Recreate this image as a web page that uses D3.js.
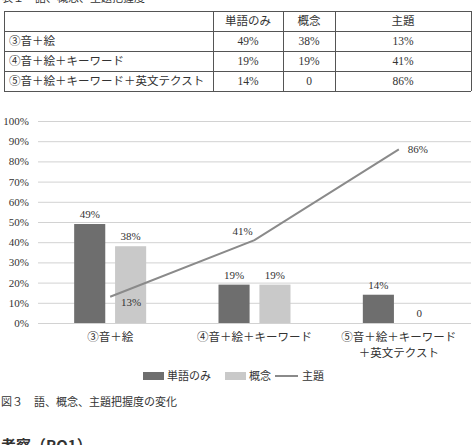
<!DOCTYPE html>
<html>
<head>
<meta charset="utf-8">
<script src="https://cdn.jsdelivr.net/npm/d3@7"></script>
<style>
  html, body { margin: 0; padding: 0; background: #fff; }
  svg { display: block; }
  text { font-family: "Liberation Serif", "Noto Sans CJK JP", serif; fill: #333; }
</style>
</head>
<body>
<div id="wrapper"></div>
<script>
const categories = ["③音＋絵", "④音＋絵＋キーワード", "⑤音＋絵＋キーワード＋英文テクスト"]
const categoryLines = [["③音＋絵"], ["④音＋絵＋キーワード"], ["⑤音＋絵＋キーワード", "＋英文テクスト"]]
const seriesNames = ["単語のみ", "概念", "主題"]
const wordOnly = [0.49, 0.19, 0.14]
const concept = [0.38, 0.19, 0]
const theme = [0.13, 0.41, 0.86]
const yTicks = [0, 0.1, 0.2, 0.3, 0.4, 0.5, 0.6, 0.7, 0.8, 0.9, 1.0]
const tableCells = [
  ["49%", "38%", "13%"],
  ["19%", "19%", "41%"],
  ["14%", "0", "86%"],
]

function drawChart() {
  const dimensions = { width: 476, height: 445 }

  const svg = d3.select("#wrapper")
    .append("svg")
      .attr("width", dimensions.width)
      .attr("height", dimensions.height)

  // table title (cut at the top of the picture)
  svg.append("text")
    .attr("x", 2).attr("y", 2)
    .style("font-size", "11px")
    .text("表１　語、概念、主題把握度")

  // 1. table
  const colEdges = [4, 213, 283, 335, 471]
  const rowEdges = [11, 31, 51, 71, 91]
  const table = svg.append("g")

  rowEdges.forEach(y => {
    table.append("line")
      .attr("x1", colEdges[0]).attr("x2", colEdges[colEdges.length - 1])
      .attr("y1", y + 0.5).attr("y2", y + 0.5)
      .attr("stroke", "#555")
  })
  colEdges.forEach(x => {
    table.append("line")
      .attr("x1", x + 0.5).attr("x2", x + 0.5)
      .attr("y1", rowEdges[0]).attr("y2", rowEdges[rowEdges.length - 1])
      .attr("stroke", "#555")
  })
  seriesNames.forEach((name, j) => {
    table.append("text")
      .attr("x", (colEdges[j + 1] + colEdges[j + 2]) / 2)
      .attr("y", (rowEdges[0] + rowEdges[1]) / 2 + 4)
      .attr("text-anchor", "middle")
      .style("font-size", "11.5px")
      .text(name)
  })
  categories.forEach((cat, i) => {
    const yMid = (rowEdges[i + 1] + rowEdges[i + 2]) / 2 + 4
    table.append("text")
      .attr("x", colEdges[0] + 5).attr("y", yMid)
      .style("font-size", "11.5px")
      .text(cat)
    tableCells[i].forEach((v, j) => {
      table.append("text")
        .attr("x", (colEdges[j + 1] + colEdges[j + 2]) / 2)
        .attr("y", yMid)
        .attr("text-anchor", "middle")
        .style("font-size", "11.5px")
        .text(v)
    })
  })

  // 2. chart
  const yScale = d3.scaleLinear()
    .domain([0, 1])
    .range([323, 121])

  const xScale = d3.scaleBand()
    .domain(categories)
    .range([38, 471])

  const xSub = d3.scaleBand()
    .domain(seriesNames.slice(0, 2))
    .range([-36, 36])
    .paddingInner(0.24)

  const yAxisGenerator = d3.axisLeft(yScale)
    .tickValues(yTicks)
    .tickFormat(d3.format(".0%"))
    .tickSize(-(471 - 38))
    .tickPadding(9)

  const yAxis = svg.append("g")
    .attr("transform", "translate(38,0)")
    .call(yAxisGenerator)
  yAxis.select(".domain").remove()
  yAxis.selectAll(".tick line").attr("stroke", "#d2d2d2")
  yAxis.selectAll(".tick text")
    .style("font-size", "11px")
    .style("font-family", "'Liberation Serif', serif")
    .attr("fill", "#333")

  const barSeries = [
    { name: seriesNames[0], values: wordOnly, color: "#6e6e6e" },
    { name: seriesNames[1], values: concept, color: "#c9c9c9" },
  ]

  const center = c => xScale(c) + xScale.bandwidth() / 2

  barSeries.forEach(s => {
    const g = svg.append("g")
    g.selectAll("rect")
      .data(categories)
      .join("rect")
        .attr("x", (c, i) => center(c) + xSub(s.name))
        .attr("y", (c, i) => yScale(s.values[i]))
        .attr("width", xSub.bandwidth())
        .attr("height", (c, i) => yScale(0) - yScale(s.values[i]))
        .attr("fill", s.color)
    g.selectAll("text")
      .data(categories)
      .join("text")
        .attr("x", (c, i) => center(c) + xSub(s.name) + xSub.bandwidth() / 2)
        .attr("y", (c, i) => yScale(s.values[i]) - 6)
        .attr("text-anchor", "middle")
        .style("font-size", "11px")
        .text((c, i) => s.values[i] === 0 ? "0" : d3.format(".0%")(s.values[i]))
  })

  // line series
  const lineGenerator = d3.line()
    .x((c, i) => center(c))
    .y((c, i) => yScale(theme[i]))

  svg.append("path")
    .attr("d", lineGenerator(categories))
    .attr("fill", "none")
    .attr("stroke", "#8a8a8a")
    .attr("stroke-width", 2)

  // label placement like the spreadsheet: below, above, right
  const labelPlace = ["below", "above", "right"]
  svg.append("g").selectAll("text")
    .data(categories)
    .join("text")
      .attr("x", (c, i) => {
        const p = labelPlace[i]
        return center(c) + (p === "below" ? 21 : p === "above" ? -12 : 19)
      })
      .attr("y", (c, i) => {
        const p = labelPlace[i]
        return yScale(theme[i]) + (p === "below" ? 9 : p === "above" ? -5 : 4)
      })
      .attr("text-anchor", "middle")
      .style("font-size", "11px")
      .text((c, i) => d3.format(".0%")(theme[i]))

  // x labels
  const xLabels = svg.append("g")
  categories.forEach((c, i) => {
    categoryLines[i].forEach((line, k) => {
      xLabels.append("text")
        .attr("x", center(c))
        .attr("y", 341 + k * 16)
        .attr("text-anchor", "middle")
        .style("font-size", "11.5px")
        .text(line)
    })
  })

  // 3. legend
  const legend = svg.append("g")
  legend.append("rect").attr("x", 143).attr("y", 372).attr("width", 21).attr("height", 8).attr("fill", "#6e6e6e")
  legend.append("text").attr("x", 167).attr("y", 380).style("font-size", "11px").text(seriesNames[0])
  legend.append("rect").attr("x", 225).attr("y", 372).attr("width", 21).attr("height", 8).attr("fill", "#c9c9c9")
  legend.append("text").attr("x", 249).attr("y", 380).style("font-size", "11px").text(seriesNames[1])
  legend.append("line").attr("x1", 275).attr("x2", 298).attr("y1", 376).attr("y2", 376)
    .attr("stroke", "#8a8a8a").attr("stroke-width", 2)
  legend.append("text").attr("x", 302).attr("y", 380).style("font-size", "11px").text(seriesNames[2])

  // caption
  svg.append("text")
    .attr("x", 1).attr("y", 406)
    .style("font-size", "11px")
    .text("図３　語、概念、主題把握度の変化")

  svg.append("text")
    .attr("x", 1).attr("y", 451)
    .style("font-size", "15px")
    .style("font-weight", "bold")
    .style("font-family", "'Noto Sans CJK JP', sans-serif")
    .text("考察（RQ1）")
}

drawChart()
</script>
</body>
</html>
